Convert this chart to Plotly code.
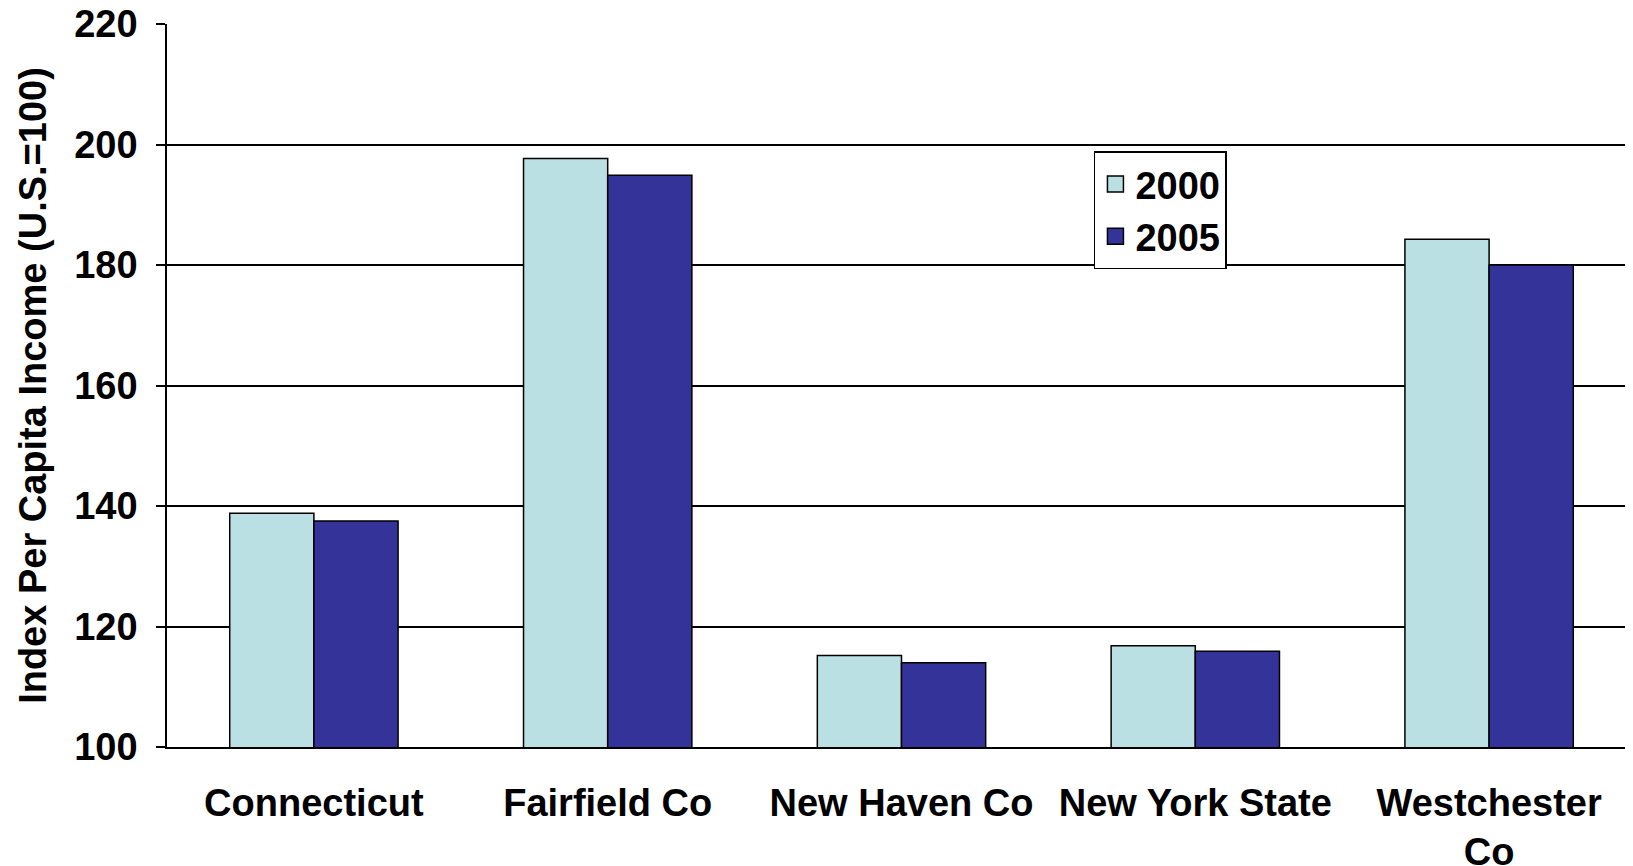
import plotly.graph_objects as go

regions = ["Connecticut", "Fairfield Co", "New Haven Co", "New York State", "Westchester<br>Co"]
idx_2000 = [138.8, 197.7, 115.2, 116.8, 184.3]
idx_2005 = [137.5, 194.9, 114.0, 115.9, 180.0]
y_ticks = [100, 120, 140, 160, 180, 200, 220]

font = "Liberation Sans, Arial, sans-serif"
colors = {"2000": "#BBE0E3", "2005": "#333399"}

fig = go.Figure()
fig.add_trace(go.Bar(x=regions, y=idx_2000, name="2000", showlegend=False,
                     marker=dict(color=colors["2000"], line=dict(color="black", width=1.5))))
fig.add_trace(go.Bar(x=regions, y=idx_2005, name="2005", showlegend=False,
                     marker=dict(color=colors["2005"], line=dict(color="black", width=1.5))))
# legend entries with bigger square swatches
for yr in ["2000", "2005"]:
    fig.add_trace(go.Scatter(x=[None], y=[None], mode="markers", name=yr,
                             marker=dict(symbol="square", size=21, color=colors[yr],
                                         line=dict(color="black", width=1.5))))

fig.update_layout(
    width=1633, height=866,
    margin=dict(l=159, r=5, t=16, b=127),
    plot_bgcolor="white", paper_bgcolor="white",
    barmode="group", bargap=0.427, bargroupgap=0,
    font=dict(family=font, color="black"),
    legend=dict(x=0.631, y=0.824, xanchor="left", yanchor="top",
                bordercolor="black", borderwidth=1.5, bgcolor="white",
                font=dict(size=38, family=font, weight="bold"),
                itemsizing="trace", itemwidth=30),
)
fig.update_xaxes(showline=True, linecolor="black", linewidth=2, ticks="",
                 tickfont=dict(size=38, family=font, weight="bold"),
                 ticklabelstandoff=21, automargin=False)
fig.update_yaxes(range=[100, 220.02], tickvals=y_ticks,
                 showgrid=True, gridcolor="black", gridwidth=1.5,
                 showline=True, linecolor="black", linewidth=1.5,
                 ticks="outside", ticklen=9, tickcolor="black", tickwidth=1.5,
                 tickfont=dict(size=38, family=font, weight="bold"),
                 ticklabelstandoff=11, ticklabeloverflow="allow", automargin=False,
                 title=dict(text="Index Per Capita Income (U.S.=100)", standoff=16,
                            font=dict(size=38, family=font, weight="bold")))

fig.write_html("out.html")
